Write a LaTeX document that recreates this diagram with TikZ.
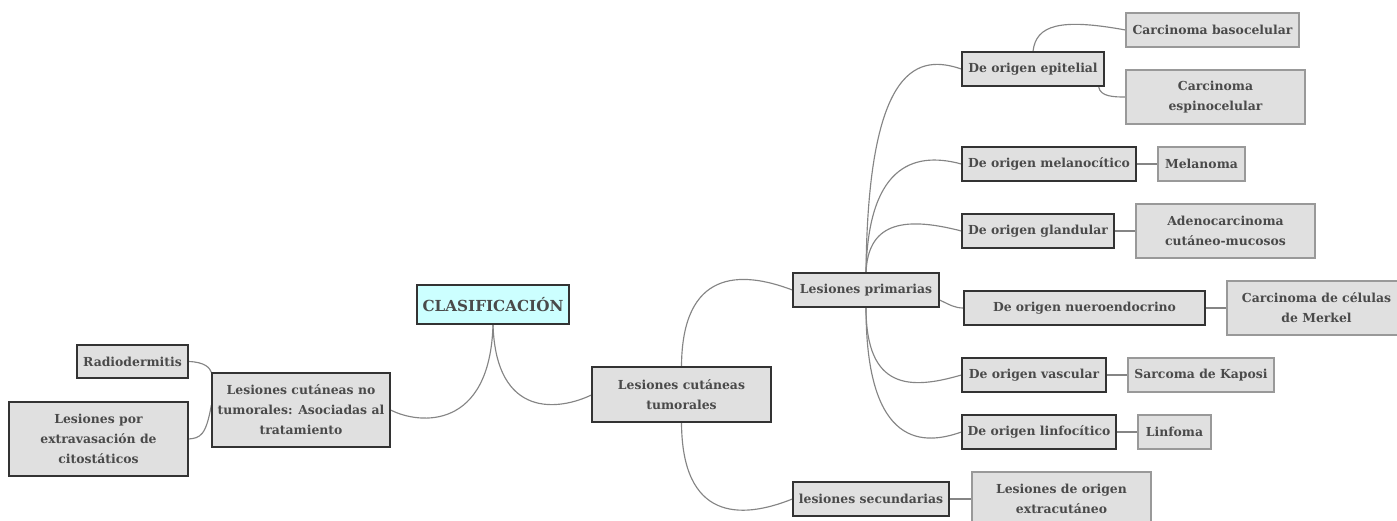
\documentclass[tikz,border=0pt]{standalone}
\usepackage{fontspec}
\setmainfont{DejaVu Serif}
\usepackage{tikz}
\usepackage{xcolor}
\usetikzlibrary{positioning, calc, backgrounds}
\definecolor{txtgray}{HTML}{4A4A4A}
\definecolor{boxfill}{HTML}{E0E0E0}
\definecolor{rootfill}{HTML}{CCFFFF}
\definecolor{linkgray}{HTML}{858585}

\begin{document}
\begin{tikzpicture}[x=1pt, y=-1pt,
        box/.style={rectangle, draw=black!80, line width=1.3pt, fill=boxfill, inner sep=0pt,
            text=txtgray, font=\fontsize{12.4}{20}\selectfont\bfseries, align=center},
        leaf/.style={box, draw=black!40, line width=1.1pt},
        link/.style={draw=linkgray, line width=1.15pt}]
        \useasboundingbox (0,0) rectangle (1397,520);
        % central node and the two main branches
        \node[box, fill=rootfill, minimum width=152pt, minimum height=39pt, font=\fontsize{15.2}{18}\selectfont\bfseries] (root) at (493,304.5) {CLASIFICACIÓN};
        \node[box, minimum width=178pt, minimum height=74pt] (notum) at (301,410) {Lesiones cutáneas no\\tumorales: Asociadas al\\tratamiento};
        \node[box, minimum width=111pt, minimum height=33pt] (radio) at (132.5,361.5) {Radiodermitis};
        \node[box, minimum width=179pt, minimum height=74pt] (extrav) at (98.5,439) {Lesiones por\\extravasación de\\citostáticos};
        \node[box, minimum width=179pt, minimum height=55pt] (tum) at (681.5,394.5) {Lesiones cutáneas\\tumorales};
        \node[box, minimum width=146pt, minimum height=34pt] (prim) at (866,290) {Lesiones primarias};
        \node[box, minimum width=156pt, minimum height=34pt] (sec) at (871,499) {lesiones secundarias};
        \node[leaf, minimum width=179pt, minimum height=54pt] (extracut) at (1061.5,499) {Lesiones de origen\\extracutáneo};
        % origins of the primary lesions
        \node[box, minimum width=142pt, minimum height=34pt] (epit) at (1033,69) {De origen epitelial};
        \node[box, minimum width=174pt, minimum height=34pt] (melano) at (1049,164) {De origen melanocítico};
        \node[box, minimum width=152pt, minimum height=34pt] (gland) at (1038,231) {De origen glandular};
        \node[box, minimum width=241pt, minimum height=34pt] (neuro) at (1084.5,308) {De origen nueroendocrino};
        \node[box, minimum width=144pt, minimum height=34pt] (vasc) at (1034,375) {De origen vascular};
        \node[box, minimum width=154pt, minimum height=34pt] (linfo) at (1039,432) {De origen linfocítico};
        % leaves
        \node[leaf, minimum width=173pt, minimum height=34pt] (baso) at (1212.5,30) {Carcinoma basocelular};
        \node[leaf, minimum width=179pt, minimum height=54pt] (espino) at (1215.5,97) {Carcinoma\\espinocelular};
        \node[leaf, minimum width=87pt, minimum height=34pt] (melanoma) at (1201.5,164) {Melanoma};
        \node[leaf, minimum width=179pt, minimum height=54pt] (adeno) at (1225.5,231) {Adenocarcinoma\\cutáneo-mucosos};
        \node[leaf, minimum width=179pt, minimum height=54pt] (merkel) at (1316.5,308) {Carcinoma de células\\de Merkel};
        \node[leaf, minimum width=146pt, minimum height=34pt] (kaposi) at (1201,375) {Sarcoma de Kaposi};
        \node[leaf, minimum width=73pt, minimum height=34pt] (linfoma) at (1174.5,432) {Linfoma};

        \begin{scope}[on background layer]
        \draw[link] (root.south) .. controls (490,430) and (420,425) .. (notum.east);
        \draw[link] (root.south) .. controls (496,420) and (560,410) .. ([yshift=-0.5pt]tum.west);
        \draw[link] (radio.east) .. controls (205,362) and (210,368) .. (notum.north west);
        \draw[link] (extrav.east) .. controls (200,438) and (206,436) .. ([yshift=5pt]notum.west);
        \draw[link] (tum.north) .. controls (682,270) and (740,270) .. (prim.west);
        \draw[link] (tum.south) .. controls (682,520) and (740,520) .. (sec.west);
        \draw[link] (sec) -- (extracut);
        \draw[link] (prim.north) .. controls (868,60) and (920,55) .. (epit.west);
        \draw[link] (prim.north) .. controls (868,170) and (910,150) .. (melano.west);
        \draw[link] (prim.north) .. controls (868,225) and (900,215) .. (gland.west);
        \draw[link] ([yshift=-10pt]prim.east) .. controls (950,305) and (955,308) .. (neuro.west);
        \draw[link] (prim.south) .. controls (866,390) and (910,390) .. (vasc.west);
        \draw[link] (prim.south) .. controls (866,450) and (925,445) .. (linfo.west);
        \draw[link] (epit.north) .. controls (1036,25) and (1060,18) .. (baso.west);
        \draw[link] ([xshift=-6pt]epit.south east) .. controls (1100,97) and (1115,97) .. (espino.west);
        \draw[link] (melano) -- (melanoma);
        \draw[link] (gland) -- (adeno);
        \draw[link] (neuro) -- (merkel);
        \draw[link] (vasc) -- (kaposi);
        \draw[link] (linfo) -- (linfoma);
        \end{scope}
    \end{tikzpicture}
\end{document}
